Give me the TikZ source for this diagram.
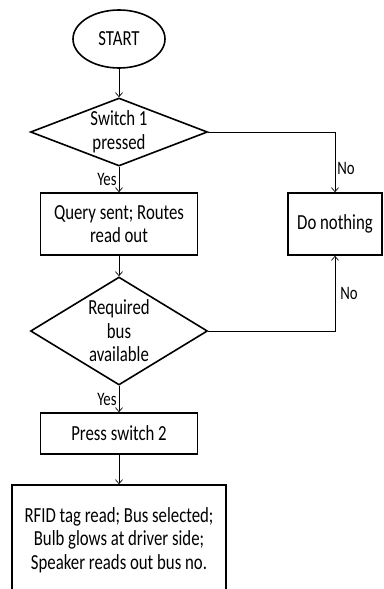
\documentclass[tikz,border=0pt]{standalone}
\usepackage{fontspec}
\setmainfont{Carlito}[FakeStretch=0.78]
\usetikzlibrary{shapes.geometric,arrows.meta}
\begin{document}
\begin{tikzpicture}[x=1pt,y=-1pt,
  txt/.style={font=\fontsize{21.5}{23.5}\selectfont},
  box/.style={draw,line width=1.6pt,inner sep=0pt,align=center,txt},
  dec/.style={draw,diamond,line width=1.6pt,inner sep=0pt,align=center,txt},
  term/.style={draw,ellipse,line width=1.6pt,inner sep=0pt,txt},
  conn/.style={line width=0.7pt,-{Straight Barb[length=4pt,width=7pt]}},
  lbl/.style={font=\fontsize{19}{21}\selectfont,inner sep=2pt}]
\useasboundingbox (0,0) rectangle (383,589);
\clip (0,0) rectangle (383,589);
\node[term,minimum width=92pt,minimum height=58pt] (start) at (119,39) {START};
\node[dec,minimum width=177pt,minimum height=68pt,aspect=2.6] (d1) at (119,132) {Switch 1\\pressed};
\node[box,minimum width=157pt,minimum height=62pt] (q) at (119,224) {Query sent; Routes\\read out};
\node[box,minimum width=94pt,minimum height=62pt] (dn) at (335,224) {Do nothing};
\node[dec,minimum width=177pt,minimum height=108pt,aspect=1.64] (d2) at (119,331) {Required\\bus\\available};
\node[box,minimum width=157pt,minimum height=41pt] (p) at (119,433.5) {Press switch 2};
\node[box,minimum width=214pt,minimum height=130pt] (f) at (119,550) {RFID tag read; Bus selected;\\Bulb glows at driver side;\\Speaker reads out bus no.\\~};
\draw[conn] (start) -- (d1);
\draw[conn] (d1) -- (q) node[lbl,pos=0.5,left] {Yes};
\draw[conn] (d1.east) -| (dn.north) node[lbl,pos=0.8,right] {No};
\draw[conn] (q) -- (d2);
\draw[conn] (d2.east) -| (dn.south) node[lbl,pos=0.75,right,xshift=3pt] {No};
\draw[conn] (d2) -- (p) node[lbl,pos=0.5,left] {Yes};
\draw[conn] (p) -- (f);
\end{tikzpicture}
\end{document}
